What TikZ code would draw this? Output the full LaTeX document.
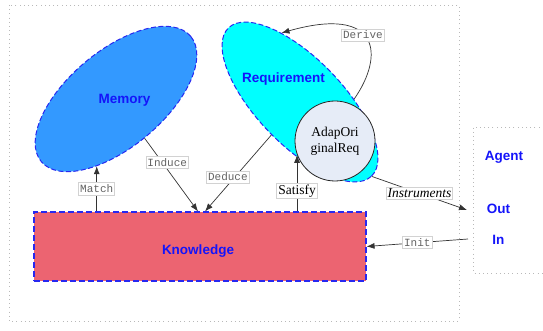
\documentclass[tikz,border=0pt]{standalone}
\usepackage{fontspec}
\setmainfont{Liberation Serif}
\setsansfont{Liberation Sans}
\setmonofont{Liberation Mono}
\usetikzlibrary{arrows.meta,shapes.geometric}
\definecolor{memblue}{RGB}{51,153,255}
\definecolor{reqcyan}{RGB}{0,255,255}
\definecolor{knred}{RGB}{236,100,113}
\definecolor{circfill}{RGB}{230,236,247}
\definecolor{dashblue}{RGB}{40,40,240}
\definecolor{txtblue}{RGB}{20,20,250}
\definecolor{lblgray}{RGB}{100,100,100}
\begin{document}
\begin{tikzpicture}[x=1pt,y=-1pt,
  framebox/.style={draw=gray!55, line width=0.9pt, dash pattern=on 1pt off 3.2pt},
  blob/.style={ellipse, inner sep=0pt, draw=dashblue, line width=1pt, dash pattern=on 5pt off 2.5pt},
  lbl/.style={draw=gray!35, fill=white, inner xsep=1.5pt, inner ysep=2pt, text=lblgray, font=\fontsize{11}{12}\ttfamily\selectfont},
  slbl/.style={draw=gray!35, fill=white, inner xsep=1.5pt, inner ysep=1.5pt, text=black, font=\fontsize{13.5}{15}\selectfont},
  btxt/.style={inner sep=0pt, text=txtblue, font=\fontsize{13.5}{15}\sffamily\bfseries\selectfont},
  conn/.style={draw=black!80, line width=0.7pt, -{Latex[length=8pt,width=6pt]}}
]
\useasboundingbox (0,0) rectangle (543,331);
% frames
\draw[framebox] (9,5) rectangle (459,321);
\draw[framebox] (548,127) -- (473,127) -- (473,273) -- (548,273);
% shapes
\node[blob, fill=memblue, minimum width=195pt, minimum height=96pt, rotate=40] (mem) at (116,99) {};
\node[blob, fill=reqcyan, minimum width=206pt, minimum height=86pt, rotate=-46] (req) at (300,102) {};
\node[circle, draw=black!85, line width=0.8pt, fill=circfill, minimum size=80pt, inner sep=0pt, align=center, font=\fontsize{13.5}{16}\selectfont] (orig) at (335,141) {AdapOri\\ginalReq};
\node[rectangle, fill=knred, draw=dashblue, line width=1.1pt, dash pattern=on 6pt off 3pt,
      preaction={draw=white, solid, line width=1.1pt, opacity=0.6},
      minimum width=332pt, minimum height=69pt, inner sep=0pt] (kn) at (200,246.5) {};
% texts
\node[btxt] (memt) at (124.5,100) {Memory};
\node[btxt] (reqt) at (283.5,79) {Requirement};
\node[btxt] (knt) at (198,251) {Knowledge};
\node[btxt] (agent) at (504,157.5) {Agent};
\node[btxt] (out) at (498.5,209) {Out};
\node[btxt] (in) at (498.3,239.5) {In};
% free ends
\coordinate (insend) at (467,210);
\coordinate (initst) at (468,239);
% connectors
\draw[conn] (mem.-146 |- kn.north) -- node[lbl, pos=0.5] {Match} (mem.-146);
\draw[conn] (mem) -- node[lbl, pos=0.33, xshift=5pt] {Induce} ([xshift=-2pt]kn.north);
\draw[conn] (req) -- node[lbl, pos=0.55, xshift=-7pt] {Deduce} ([xshift=5pt]kn.north);
\draw[conn] (orig.200 |- kn.north) -- node[slbl, pos=0.36] {Satisfy} (orig.200);
\draw[conn] (req.east) -- node[slbl, font=\fontsize{13.5}{15}\itshape\selectfont] {Instruments} (insend);
\draw[conn] (initst) -- node[lbl] {Init} (kn.east);
\draw[conn] (req.49) .. controls (385,55) and (380,5) .. node[lbl, pos=0.55] {Derive} (req.151);
\end{tikzpicture}
\end{document}
